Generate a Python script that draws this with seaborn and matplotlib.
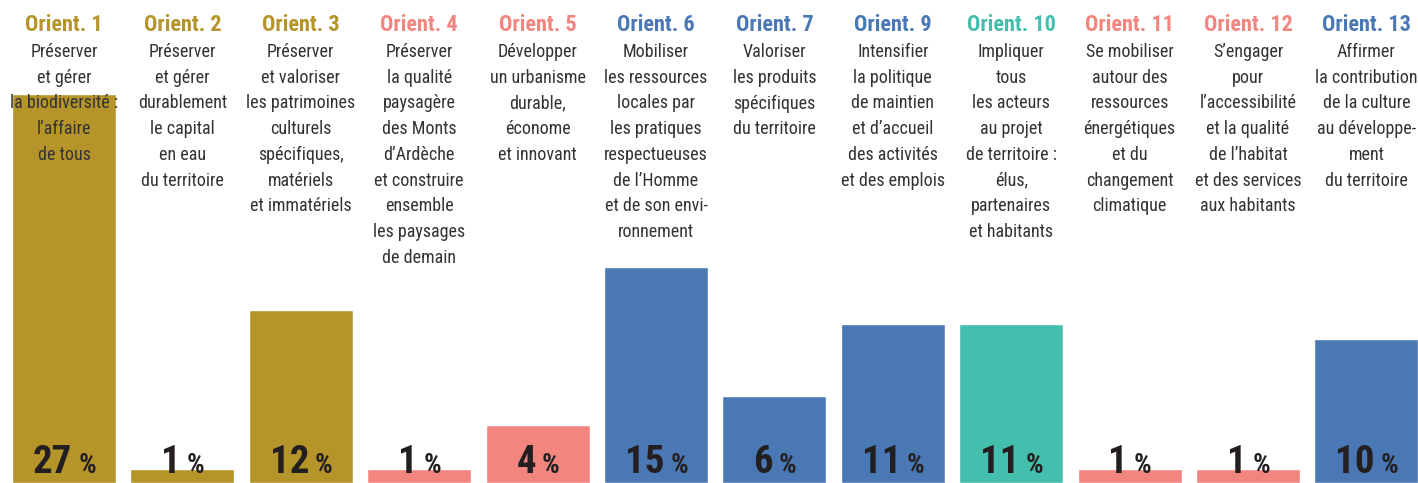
import matplotlib
matplotlib.use("Agg")
import matplotlib.pyplot as plt
from matplotlib import font_manager
from matplotlib.transforms import offset_copy
import seaborn as sns

# =============================
# DATA
# =============================
orients = ["Orient. 1", "Orient. 2", "Orient. 3", "Orient. 4", "Orient. 5", "Orient. 6",
           "Orient. 7", "Orient. 9", "Orient. 10", "Orient. 11", "Orient. 12", "Orient. 13"]
descriptions = [
    "Préserver\net gérer\nla biodiversité :\nl’affaire\nde tous",
    "Préserver\net gérer\ndurablement\nle capital\nen eau\ndu territoire",
    "Préserver\net valoriser\nles patrimoines\nculturels\nspécifiques,\nmatériels\net immatériels",
    "Préserver\nla qualité\npaysagère\ndes Monts\nd’Ardèche\net construire\nensemble\nles paysages\nde demain",
    "Développer\nun urbanisme\ndurable,\néconome\net innovant",
    "Mobiliser\nles ressources\nlocales par\nles pratiques\nrespectueuses\nde l’Homme\net de son envi-\nronnement",
    "Valoriser\nles produits\nspécifiques\ndu territoire",
    "Intensifier\nla politique\nde maintien\net d’accueil\ndes activités\net des emplois",
    "Impliquer\ntous\nles acteurs\nau projet\nde territoire :\nélus,\npartenaires\net habitants",
    "Se mobiliser\nautour des\nressources\nénergétiques\net du\nchangement\nclimatique",
    "S’engager\npour\nl’accessibilité\net la qualité\nde l’habitat\net des services\naux habitants",
    "Affirmer\nla contribution\nde la culture\nau développe-\nment\ndu territoire",
]
percents = [27, 1, 12, 1, 4, 15, 6, 11, 11, 1, 1, 10]
colors = ["#B5952A", "#B5952A", "#B5952A", "#F3857F", "#F3857F", "#4A78B5",
          "#4A78B5", "#4A78B5", "#44BFAD", "#F3857F", "#F3857F", "#4A78B5"]

# =============================
# FONT
# =============================
installed = {f.name for f in font_manager.fontManager.ttflist}
family = [f for f in ["Roboto Condensed", "Liberation Sans Narrow", "DejaVu Sans Condensed",
                      "Liberation Sans", "DejaVu Sans"] if f in installed]
print("Fonts:", family)

# =============================
# PLOT
# =============================
sns.set_style("white")
plt.rcParams["font.family"] = family

fig = plt.figure(figsize=(14.18, 4.83), dpi=100)
ax = fig.add_axes([0, 0, 1, 1])

sns.barplot(x=orients, y=percents, hue=orients, palette=colors, saturation=1,
            width=104 / 118.4, legend=False, ax=ax)

ax.set_xlim(-64 / 118.4, (1418 - 64) / 118.4)
ax.set_ylim(0, 33.5)
ax.axis("off")

trans = ax.get_xaxis_transform()
text_color = "#333333"
for i, (head, desc, col) in enumerate(zip(orients, descriptions, colors)):
    ax.text(i, 1 - 25 / 483, head, transform=trans,
            ha="center", va="center", fontsize=16, fontweight="bold", color=col, zorder=5)
    ax.text(i, 1 - 43 / 483, desc, transform=trans,
            ha="center", va="top", fontsize=13, color=text_color,
            linespacing=1.55, zorder=5)

# percentage labels: big number + small "%", centred together on the bar
fig.canvas.draw()
renderer = fig.canvas.get_renderer()
pct_w = 17
gap = 6
base = 1 - 473 / 483
shift = (pct_w + gap) / 2
for i, p in enumerate(percents):
    num = ax.text(i, base, str(p), ha="center", va="baseline", fontsize=28,
                  fontweight="bold", color="#231F20", zorder=6,
                  transform=offset_copy(trans, fig=fig, x=-shift, y=0, units="dots"))
    w = num.get_window_extent(renderer).width
    ax.text(i, base, "%", ha="left", va="baseline", fontsize=20,
            fontweight="bold", color="#231F20", zorder=6,
            transform=offset_copy(trans, fig=fig, x=-shift + w / 2 + gap, y=0, units="dots"))

fig.savefig("out.png", dpi=100)
